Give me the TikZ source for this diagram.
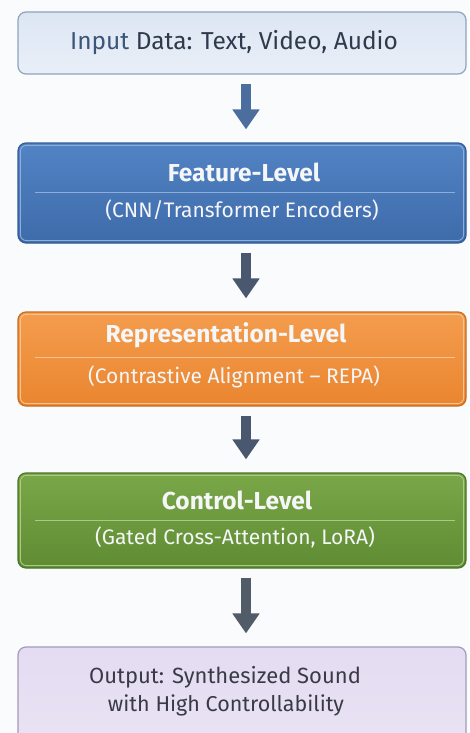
\documentclass[tikz,border=0pt]{standalone}
\usepackage{fontspec}
\setmainfont{Fira Sans}
\usetikzlibrary{arrows.meta}
\definecolor{bgc}{HTML}{FAFBFC}
\definecolor{inTop}{HTML}{DCE6F3}
\definecolor{inBot}{HTML}{E9EFF8}
\definecolor{inDraw}{HTML}{8FA3BD}
\definecolor{inText}{HTML}{2F3A4C}
\definecolor{inWord}{HTML}{3D5578}
\definecolor{blTop}{HTML}{5283C4}
\definecolor{blBot}{HTML}{3E6BAA}
\definecolor{blDraw}{HTML}{335C96}
\definecolor{blIn}{HTML}{8DAEDC}
\definecolor{orTop}{HTML}{F49D4E}
\definecolor{orBot}{HTML}{EA852F}
\definecolor{orDraw}{HTML}{C66C24}
\definecolor{orIn}{HTML}{F9C391}
\definecolor{grTop}{HTML}{7AA748}
\definecolor{grBot}{HTML}{5F8C33}
\definecolor{grDraw}{HTML}{4B7429}
\definecolor{grIn}{HTML}{AACB88}
\definecolor{pTop}{HTML}{E4DCF2}
\definecolor{pBot}{HTML}{EAE4F5}
\definecolor{pDraw}{HTML}{A49AB8}
\definecolor{pText}{HTML}{3A3A46}
\definecolor{arA}{HTML}{4B6E9F}
\definecolor{arB}{HTML}{4A586F}
\definecolor{arC}{HTML}{525B68}
\definecolor{titleC}{HTML}{F5F6F8}
\tikzset{
  boxbase/.style={rounded corners=8pt, line width=1.2pt, inner sep=0pt, minimum width=448pt},
  innerline/.style={rounded corners=6pt, line width=0.9pt},
  septline/.style={line width=0.8pt},
  titletext/.style={font=\fontsize{24.5}{28}\selectfont\bfseries, text=titleC, inner sep=0pt},
  subtext/.style={font=\fontsize{21}{25}\selectfont, text=titleC, inner sep=0pt},
  plaintext/.style={font=\fontsize{22}{26}\selectfont, inner sep=0pt},
  flowarrow/.style={line width=10pt, -{Triangle[width=26pt,length=20pt]}, shorten <=9pt, shorten >=13pt},
}
\begin{document}
\begin{tikzpicture}[x=1pt,y=-1pt]
\useasboundingbox (0,0) rectangle (469,733);
\fill[bgc] (0,0) rectangle (469,733);
\begin{scope}
\clip (0,0) rectangle (469,733);
% box 1
\node[boxbase, draw=inDraw, top color=inTop, bottom color=inBot, minimum height=62pt] (b1) at (242,43) {};
\node[plaintext, font=\fontsize{24.5}{28}\selectfont, text=inText] (t1) at (234,43) {\textcolor{inWord}{Input} Data: Text, Video, Audio};
% box 2
\node[boxbase, draw=blDraw, top color=blTop, bottom color=blBot, minimum height=100pt] (b2) at (242,193) {};
\draw[innerline, blIn] ([shift={(3pt,3pt)}]b2.south west) rectangle ([shift={(-3pt,-3pt)}]b2.north east);
\draw[septline, blIn] (35,192) -- (455,192);
\node[titletext] (t2) at (244,172) {Feature-Level};
\node[subtext] (s2) at (242,210) {(CNN/Transformer Encoders)};
% box 3
\node[boxbase, draw=orDraw, top color=orTop, bottom color=orBot, minimum height=94pt] (b3) at (242,359) {};
\draw[innerline, orIn] ([shift={(3pt,3pt)}]b3.south west) rectangle ([shift={(-3pt,-3pt)}]b3.north east);
\draw[septline, orIn] (35,357) -- (455,357);
\node[titletext] (t3) at (226,335) {Representation-Level};
\node[subtext] (s3) at (234,377) {(Contrastive Alignment -- REPA)};
% box 4
\node[boxbase, draw=grDraw, top color=grTop, bottom color=grBot, minimum height=95pt] (b4) at (242,520.5) {};
\draw[innerline, grIn] ([shift={(3pt,3pt)}]b4.south west) rectangle ([shift={(-3pt,-3pt)}]b4.north east);
\draw[septline, grIn] (35,520) -- (455,520);
\node[titletext] (t4) at (237,500) {Control-Level};
\node[subtext] (s4) at (235,537) {(Gated Cross-Attention, LoRA)};
% box 5
\node[boxbase, draw=pDraw, top color=pTop, bottom color=pBot, minimum height=113pt] (b5) at (242,703.5) {};
\node[plaintext, text=pText] (t5a) at (225,677) {Output: Synthesized Sound};
\node[plaintext, font=\fontsize{21.5}{26}\selectfont, text=pText] (t5b) at (226,705) {with High Controllability};
\end{scope}
% arrows
\draw[flowarrow, arA] ([xshift=4pt]b1.south) -- ([xshift=4pt]b2.north);
\draw[flowarrow, arB] ([xshift=4pt]b2.south) -- ([xshift=4pt]b3.north);
\draw[flowarrow, arB] ([xshift=4pt]b3.south) -- ([xshift=4pt]b4.north);
\draw[flowarrow, arC] ([xshift=4pt]b4.south) -- ([xshift=4pt]b5.north);
\end{tikzpicture}
\end{document}
